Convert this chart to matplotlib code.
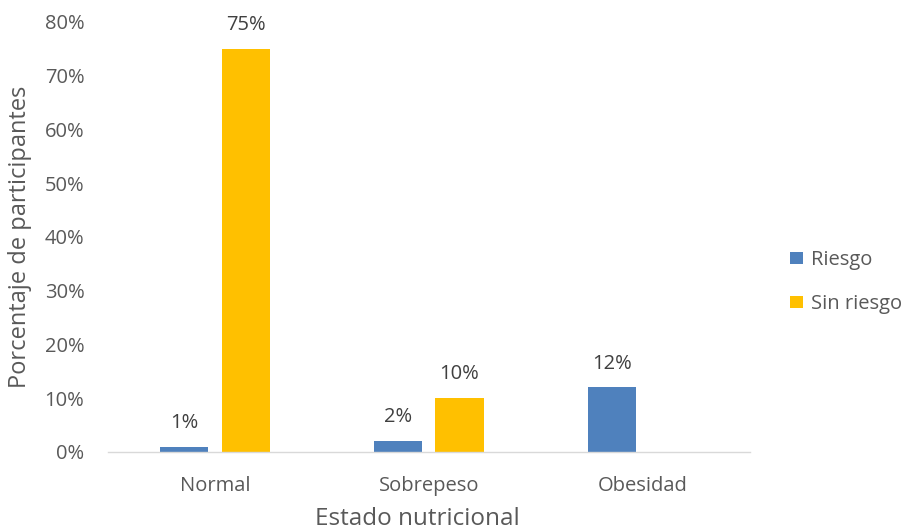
import matplotlib.pyplot as plt
import numpy as np
from matplotlib.ticker import PercentFormatter

# Data
categorias = ['Normal', 'Sobrepeso', 'Obesidad']
riesgo = [1, 2, 12]
sin_riesgo = [75, 10, 0]

plt.rcParams['font.family'] = ['Open Sans', 'DejaVu Sans']
text_color = '#595959'

fig = plt.figure(figsize=(9.04, 5.31), dpi=100)
ax = fig.add_axes([0.1195, 0.1488, 0.710, 0.810])

x = np.arange(len(categorias))
w = 0.225
off = 0.143

b1 = ax.bar(x - off, riesgo, w, color='#4F81BD', label='Riesgo')
b2 = ax.bar(x + off, sin_riesgo, w, color='#FFC000', label='Sin riesgo')

for bars, vals in ((b1, riesgo), (b2, sin_riesgo)):
    for rect, v in zip(bars, vals):
        if v > 0:
            ax.annotate(f'{v}%', (rect.get_x() + rect.get_width() / 2, v),
                        xytext=(0, 10), textcoords='offset points',
                        ha='center', va='bottom', fontsize=14.5, color='#404040')

ax.set_xlim(-0.5, 2.5)
ax.set_ylim(0, 80)
ax.set_yticks(np.arange(0, 81, 10))
ax.yaxis.set_major_formatter(PercentFormatter(decimals=0))
ax.set_xticks(x)
ax.set_xticklabels(categorias)

for s in ['top', 'right', 'left']:
    ax.spines[s].set_visible(False)
ax.spines['bottom'].set_color('#D9D9D9')
ax.spines['bottom'].set_linewidth(1)
ax.tick_params(axis='both', length=0, labelsize=14.5, colors=text_color)
ax.tick_params(axis='x', pad=17)
ax.tick_params(axis='y', pad=17)

ax.set_xlabel('Estado nutricional', fontsize=17.5, color=text_color)
ax.xaxis.set_label_coords(0.482, -0.128)
ax.set_ylabel('Porcentaje de participantes', fontsize=17, color=text_color, labelpad=9)

leg = ax.legend(loc='center left', bbox_to_anchor=(1.035, 0.395), frameon=False,
                fontsize=14.5, handlelength=0.6, handleheight=0.6, handletextpad=0.4,
                labelspacing=1.2, labelcolor=text_color)

fig.savefig('out.png', dpi=100, facecolor='white')
